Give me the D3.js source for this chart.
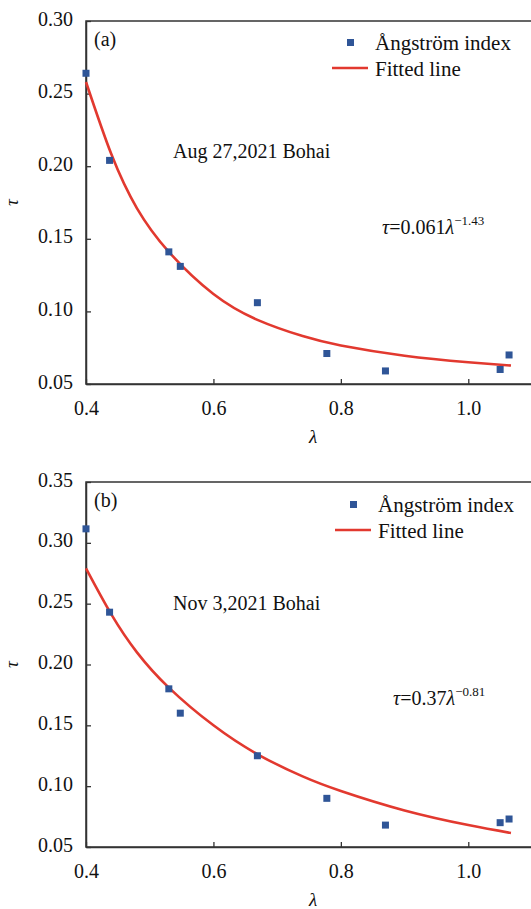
<!DOCTYPE html>
<html>
<head>
<meta charset="utf-8">
<script src="https://cdn.jsdelivr.net/npm/d3@7"></script>
<style>
body { margin: 0; background: #fff; }
svg text { font-family: "Times New Roman", "Liberation Serif", Tinos, serif; fill: #111; }
</style>
</head>
<body>
<svg width="531" height="909"></svg>
<script>
// wavelengths (um) and optical depth
var lambdaA = [0.400, 0.437, 0.530, 0.548, 0.669, 0.778, 0.870, 1.050, 1.064];
var tauA = [0.264, 0.204, 0.141, 0.131, 0.106, 0.071, 0.059, 0.060, 0.070];
var fitLambdaA = [0.40, 0.44, 0.48, 0.53, 0.60, 0.67, 0.74, 0.80, 0.90, 1.00, 1.067];
var fitTauA = [0.258, 0.208, 0.171, 0.141, 0.112, 0.094, 0.083, 0.0765, 0.0695, 0.065, 0.0627];

var lambdaB = [0.400, 0.437, 0.530, 0.548, 0.669, 0.778, 0.870, 1.050, 1.064];
var tauB = [0.3115, 0.243, 0.180, 0.160, 0.125, 0.090, 0.068, 0.070, 0.073];
var fitLambdaB = [0.40, 0.44, 0.48, 0.53, 0.60, 0.67, 0.74, 0.80, 0.90, 1.00, 1.067];
var fitTauB = [0.279, 0.241, 0.210, 0.181, 0.150, 0.126, 0.108, 0.096, 0.080, 0.068, 0.0615];

var xTicks = [0.4, 0.6, 0.8, 1.0];
var yTicksA = [0.05, 0.10, 0.15, 0.20, 0.25, 0.30];
var yTicksB = [0.05, 0.10, 0.15, 0.20, 0.25, 0.30, 0.35];

var svg = d3.select("svg");
var blue = "#2f5597", red = "#e2392f", axisCol = "#333";
var serif = "'Times New Roman', 'Liberation Serif', Tinos, serif";

function drawPanel(opt) {
  var left = 86, right = 532;
  var x = d3.scaleLinear().domain([0.4, 1.1]).range([left, right]);
  var y = d3.scaleLinear().domain(opt.yDomain).range([opt.bottom, opt.top]);
  var g = svg.append("g").attr("font-family", serif);

  // frame
  g.append("rect")
    .attr("x", left).attr("y", opt.top)
    .attr("width", right - left).attr("height", opt.bottom - opt.top)
    .attr("fill", "none").attr("stroke", axisCol).attr("stroke-width", 1.5);

  var xAxis = g.append("g")
    .attr("transform", "translate(0," + opt.bottom + ")")
    .call(d3.axisBottom(x).tickValues(xTicks).tickFormat(d3.format(".1f")).tickSizeInner(-5).tickSizeOuter(0).tickPadding(13));
  var yAxis = g.append("g")
    .attr("transform", "translate(" + left + ",0)")
    .call(d3.axisLeft(y).tickValues(opt.yTicks).tickFormat(d3.format(".2f")).tickSizeInner(-5).tickSizeOuter(0).tickPadding(13));
  [xAxis, yAxis].forEach(function(a) {
    a.attr("font-family", serif);
    a.select(".domain").attr("stroke", axisCol).attr("stroke-width", 1.5);
    a.selectAll(".tick line").attr("stroke", axisCol).attr("stroke-width", 1.3);
    a.selectAll(".tick text").attr("font-size", 20).attr("fill", "#111");
  });
  yAxis.selectAll(".tick text").attr("dy", "0.2em");
  xAxis.selectAll(".tick text").attr("dy", "0.9em");

  // fitted curve
  var line = d3.line()
    .x(function(d) { return x(d[0]); })
    .y(function(d) { return y(d[1]); })
    .curve(d3.curveNatural);
  g.append("path")
    .datum(d3.zip(opt.fitLambda, opt.fitTau))
    .attr("d", line)
    .attr("fill", "none").attr("stroke", red).attr("stroke-width", 2.6);

  // observed points
  g.selectAll(".pt")
    .data(d3.zip(opt.lambda, opt.tau))
    .enter().append("rect")
    .attr("class", "pt")
    .attr("x", function(d) { return x(d[0]) - 3.5; })
    .attr("y", function(d) { return y(d[1]) - 3.5; })
    .attr("width", 7).attr("height", 7)
    .attr("fill", blue);

  // panel letter
  g.append("text").attr("x", 94).attr("y", opt.top + 25).attr("font-size", 20).text(opt.letter);

  // legend
  var ly = opt.top + opt.legendDy;
  g.append("rect").attr("x", opt.legendX + 15).attr("y", ly - 4).attr("width", 7).attr("height", 7).attr("fill", blue);
  g.append("text").attr("x", opt.legendX + 43).attr("y", ly + 7).attr("font-size", 21).text("Ångström index");
  g.append("line").attr("x1", opt.legendX).attr("x2", opt.legendX + 36)
    .attr("y1", ly + 25).attr("y2", ly + 25).attr("stroke", red).attr("stroke-width", 2.6);
  g.append("text").attr("x", opt.legendX + 43).attr("y", ly + 33).attr("font-size", 21).text("Fitted line");

  // site / date
  g.append("text").attr("x", 173).attr("y", opt.dateY).attr("font-size", 20).text(opt.date);

  // formula
  var f = g.append("text").attr("x", opt.fx).attr("y", opt.fy).attr("font-size", 20);
  f.append("tspan").attr("font-style", "italic").text("τ");
  f.append("tspan").text("=" + opt.coef);
  f.append("tspan").attr("font-style", "italic").text("λ");
  f.append("tspan").attr("font-size", 13).attr("dy", -9).text(opt.expo);

  // axis titles
  g.append("text")
    .attr("transform", "translate(18," + ((opt.top + opt.bottom) / 2) + ") rotate(-90)")
    .attr("text-anchor", "middle").attr("font-size", 19).attr("font-style", "italic").text("τ");
  g.append("text")
    .attr("x", 313).attr("y", opt.bottom + 59)
    .attr("text-anchor", "middle").attr("font-size", 19).attr("font-style", "italic").text("λ");
}

drawPanel({
  top: 21, bottom: 384, yDomain: [0.05, 0.30], yTicks: yTicksA,
  lambda: lambdaA, tau: tauA, fitLambda: fitLambdaA, fitTau: fitTauA,
  letter: "(a)", legendX: 332, legendDy: 22,
  date: "Aug 27,2021 Bohai", dateY: 158,
  coef: "0.061", expo: "−1.43", fx: 382, fy: 234
});

drawPanel({
  top: 482, bottom: 847, yDomain: [0.05, 0.35], yTicks: yTicksB,
  lambda: lambdaB, tau: tauB, fitLambda: fitLambdaB, fitTau: fitTauB,
  letter: "(b)", legendX: 335, legendDy: 23,
  date: "Nov 3,2021 Bohai", dateY: 610,
  coef: "0.37", expo: "−0.81", fx: 393, fy: 705
});
</script>
</body>
</html>
